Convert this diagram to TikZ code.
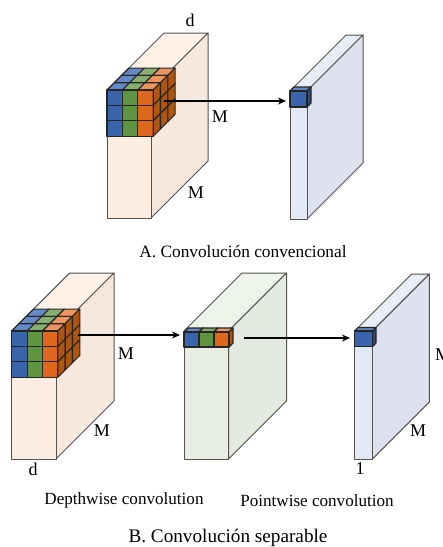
\documentclass[tikz,border=0pt]{standalone}
\usepackage{fontspec}
\setmainfont{Liberation Serif}
\usetikzlibrary{arrows.meta}
\definecolor{oF}{HTML}{FDEDE0}\definecolor{oT}{HTML}{FDF0E6}\definecolor{oS}{HTML}{F6E8DD}
\definecolor{gF}{HTML}{E8EFE2}\definecolor{gT}{HTML}{EEF4EA}\definecolor{gS}{HTML}{E3EADF}
\definecolor{bF}{HTML}{E2E8F4}\definecolor{bT}{HTML}{E9EDF7}\definecolor{bS}{HTML}{DDE2EE}
\definecolor{cbF}{HTML}{3A64AC}\definecolor{cbT}{HTML}{6589C6}\definecolor{cbS}{HTML}{2D4A80}
\definecolor{cgF}{HTML}{5F9440}\definecolor{cgT}{HTML}{86AE6E}\definecolor{cgS}{HTML}{4A7332}
\definecolor{coF}{HTML}{E0681C}\definecolor{coT}{HTML}{EC9560}\definecolor{coS}{HTML}{B0550F}
\definecolor{edge}{HTML}{55524F}
\tikzset{
  boxedge/.style={draw=edge,line width=1pt,line join=round},
  celledge/.style={draw=black!85,line width=1.1pt,line join=round},
  flow/.style={draw=black,line width=1.1pt,-{Stealth[length=8pt,width=7pt]}},
  lab/.style={font=\fontsize{18}{20}\selectfont,inner sep=0pt},
  captext/.style={font=\fontsize{17.3}{20}\selectfont,inner sep=0pt},
  capb/.style={font=\fontsize{19.2}{22}\selectfont,inner sep=0pt},
  subtext/.style={font=\fontsize{17.1}{20}\selectfont,inner sep=0pt}
}
% slab: x0 x1 ytop ybottom depth colourprefix
\newcommand{\slab}[6]{%
  \path[boxedge,fill=#6T] (#1,#3) -- ({#1+#5},{#3-#5}) -- ({#2+#5},{#3-#5}) -- (#2,#3) -- cycle;
  \path[boxedge,fill=#6S] (#2,#3) -- ({#2+#5},{#3-#5}) -- ({#2+#5},{#4-#5}) -- (#2,#4) -- cycle;
  \path[boxedge,fill=#6F] (#1,#3) rectangle (#2,#4);
}
% one block: x0 x1 ytop ybottom depth colourprefix
\newcommand{\block}[6]{%
  \path[celledge,fill=#6T] (#1,#3) -- ({#1+#5},{#3-#5}) -- ({#2+#5},{#3-#5}) -- (#2,#3) -- cycle;
  \path[celledge,fill=#6S] (#2,#3) -- ({#2+#5},{#3-#5}) -- ({#2+#5},{#4-#5}) -- (#2,#4) -- cycle;
  \path[celledge,fill=#6F] (#1,#3) rectangle (#2,#4);
}
% 3x3x3 cube: x0 ytop cell depthcell
\newcommand{\rubik}[4]{%
  \foreach \cc [count=\i from 0] in {cb,cg,co}{
    \foreach \k in {2,1,0}{
      \pgfmathsetmacro{\xa}{#1+\i*#3+\k*#4}
      \pgfmathsetmacro{\ya}{#2-\k*#4}
      \path[celledge,fill=\cc T] (\xa,\ya) -- ({\xa+#4},{\ya-#4}) -- ({\xa+#3+#4},{\ya-#4}) -- ({\xa+#3},\ya) -- cycle;
    }
    \path[celledge,fill=\cc F] ({#1+\i*#3},#2) rectangle ({#1+\i*#3+#3},{#2+3*#3});
  }
  \foreach \j in {0,1,2}{\foreach \k in {0,1,2}{
    \pgfmathsetmacro{\xa}{#1+3*#3+\k*#4}
    \pgfmathsetmacro{\ya}{#2+\j*#3-\k*#4}
    \path[celledge,fill=coS] (\xa,\ya) -- ({\xa+#4},{\ya-#4}) -- ({\xa+#4},{\ya-#4+#3}) -- (\xa,{\ya+#3}) -- cycle;
  }}
  \foreach \j in {1,2}{\path[celledge] (#1,{#2+\j*#3}) -- ({#1+3*#3},{#2+\j*#3});}
}
\begin{document}
\begin{tikzpicture}[x=1pt,y=-1pt]
\useasboundingbox (0,0) rectangle (443,547);
\clip (0,0) rectangle (443,547);
% A
\slab{107}{151}{90}{218}{57}{o}
\rubik{107}{90}{15.4}{7.3}
\slab{290}{307}{91}{219}{56}{b}
\block{290}{307}{91}{107}{4}{cb}
% B
\slab{11.7}{56}{331}{459}{58}{o}
\rubik{11.7}{331}{15.4}{7.3}
\slab{184}{228.5}{331}{459}{58}{g}
\block{184}{199}{332}{347}{4}{cb}
\block{199}{214}{332}{347}{4}{cg}
\block{214}{229}{332}{347}{4}{co}
\slab{354.7}{372.3}{331}{459}{57}{b}
\block{354.7}{372.5}{331}{346.5}{3.5}{cb}
% arrows
\coordinate (a1s) at (164,101); \coordinate (a1e) at (286,101);
\coordinate (b1s) at (78,335);  \coordinate (b1e) at (180,335);
\coordinate (b2s) at (244,338); \coordinate (b2e) at (350,338);
\draw[flow] (a1s) -- (a1e);
\draw[flow] (b1s) -- (b1e);
\draw[flow] (b2s) -- (b2e);
% labels
\node[lab] (l1) at (190,20) {d};
\node[lab] (l2) at (220,117) {M};
\node[lab] (l3) at (196,193) {M};
\node[captext] (c1) at (243,252) {A. Convolución convencional};
\node[lab] (l4) at (126,354) {M};
\node[lab] (l5) at (102,431) {M};
\node[lab] (l6) at (33,469) {d};
\node[lab,anchor=west] (l7) at (435,355) {M};
\node[lab] (l8) at (418,431) {M};
\node[lab] (l9) at (360,469) {1};
\node[subtext] (s1) at (124,500.5) {Depthwise convolution};
\node[subtext] (s2) at (317,500.5) {Pointwise convolution};
\node[capb] (c2) at (228,538) {B. Convolución separable};
\end{tikzpicture}
\end{document}
